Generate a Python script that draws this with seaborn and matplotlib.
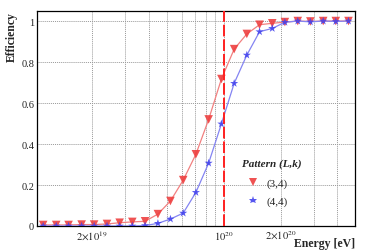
import matplotlib
matplotlib.use("Agg")
import matplotlib.pyplot as plt
import seaborn as sns
import numpy as np
import pandas as pd
from matplotlib.ticker import FixedLocator, NullFormatter, MultipleLocator, NullLocator, FixedFormatter

# Energies in eV
energy = [1.10e19, 1.29e19, 1.50e19, 1.76e19, 2.05e19, 2.40e19, 2.80e19, 3.27e19,
          3.82e19, 4.47e19, 5.21e19, 6.09e19, 7.11e19, 8.31e19, 9.71e19, 1.135e20,
          1.325e20, 1.548e20, 1.808e20, 2.11e20, 2.47e20, 2.88e20, 3.37e20, 3.93e20,
          4.59e20]
eff_34 = [0.005, 0.005, 0.005, 0.007, 0.007, 0.010, 0.016, 0.020, 0.023, 0.058,
          0.122, 0.224, 0.350, 0.520, 0.717, 0.863, 0.937, 0.982, 0.989, 0.995,
          1.000, 0.998, 1.000, 1.000, 1.000]
eff_44 = [0.000, 0.000, 0.000, 0.000, 0.000, 0.000, 0.000, 0.000, 0.002, 0.013,
          0.034, 0.063, 0.164, 0.307, 0.498, 0.696, 0.834, 0.948, 0.964, 0.994,
          1.000, 0.996, 1.000, 0.998, 1.000]
labels = ["(3,4)", "(4,4)"]
xtick_vals = [2e19, 1e20, 2e20]
xtick_text = [r"$2{\times}10^{19}$", r"$10^{20}$", r"$2{\times}10^{20}$"]
ytick_vals = [0, 0.2, 0.4, 0.6, 0.8, 1.0]
ytick_text = ["0", "0.2", "0.4", "0.6", "0.8", "1"]
grid_x = [2e19, 3e19, 4e19, 5e19, 6e19, 7e19, 8e19, 9e19, 1e20, 2e20, 3e20, 4e20]
threshold = 1e20

df = pd.concat([
    pd.DataFrame({"E": energy, "eff": eff_34, "pattern": labels[0]}),
    pd.DataFrame({"E": energy, "eff": eff_44, "pattern": labels[1]}),
])

sns.set_style("white")
plt.rcParams["font.family"] = ["Liberation Serif", "DejaVu Serif"]
plt.rcParams["mathtext.fontset"] = "stix"

fig = plt.figure(figsize=(3.74, 2.53), dpi=100)
ax = fig.add_axes([37/374, 1-227/253, (355-37)/374, (227-12)/253])

line_cols = {labels[0]: "#f28080", labels[1]: "#8484f2"}
mark_cols = {labels[0]: "#ee4040", labels[1]: "#4545ee"}
sns.lineplot(data=df, x="E", y="eff", hue="pattern", palette=line_cols,
             lw=0.9, ax=ax, legend=False, zorder=3)
sns.scatterplot(data=df, x="E", y="eff", hue="pattern", style="pattern",
                palette=mark_cols, markers={labels[0]: "v", labels[1]: "*"},
                s=38, linewidth=0, alpha=0.9, ax=ax, zorder=4)

ax.set_xscale("log")
ax.set_xlim(1.02e19, 4.97e20)
ax.set_ylim(0, 1.049)

# grid
for gx in grid_x:
    ax.axvline(gx, color="#999999", lw=0.7, ls=(0, (1, 1)), zorder=1)
for gy in ytick_vals[1:]:
    ax.axhline(gy, color="#999999", lw=0.7, ls=(0, (1, 1)), zorder=1)

ax.axvline(threshold, color="#ff2020", lw=1.4, ls=(0, (6, 1.5)), zorder=5)

ax.xaxis.set_major_locator(FixedLocator(xtick_vals))
ax.xaxis.set_major_formatter(FixedFormatter(xtick_text))
ax.xaxis.set_minor_locator(NullLocator())
ax.xaxis.set_minor_formatter(NullFormatter())
ax.yaxis.set_major_locator(FixedLocator(ytick_vals))
ax.yaxis.set_major_formatter(FixedFormatter(ytick_text))
ax.yaxis.set_minor_locator(MultipleLocator(0.05))
ax.tick_params(axis="both", which="major", direction="in", length=5, width=0.8,
               labelsize=7.5, pad=2, color="black", labelcolor="#222222")
ax.tick_params(axis="y", which="minor", direction="in", length=2.5, width=0.6)
ax.tick_params(axis="x", which="major", length=0)

for s in ax.spines.values():
    s.set_color("black")
    s.set_linewidth(0.9)

ax.set_xlabel("")
ax.set_ylabel("")
fig.text(355/374, 1-244/253, "Energy [eV]", ha="right", va="center",
         fontsize=8.5, fontweight="bold")
fig.text(12/374, 1-12/253, "Efficiency", ha="center", va="top", rotation=90,
         fontsize=8.5, fontweight="bold")

handles, hlabels = ax.get_legend_handles_labels()
leg = ax.legend(handles=handles, labels=hlabels, title="Pattern (L,k)",
                frameon=False, loc="upper left", bbox_to_anchor=(0.63, 0.335),
                fontsize=8, handletextpad=0.2, labelspacing=0.75,
                borderaxespad=0)
leg.get_title().set_fontweight("bold")
leg.get_title().set_fontstyle("italic")
leg.get_title().set_fontsize(8)
leg._legend_box.align = "left"
leg._legend_box.sep = 7
leg.set_zorder(6)

fig.savefig("out.png", dpi=100)
